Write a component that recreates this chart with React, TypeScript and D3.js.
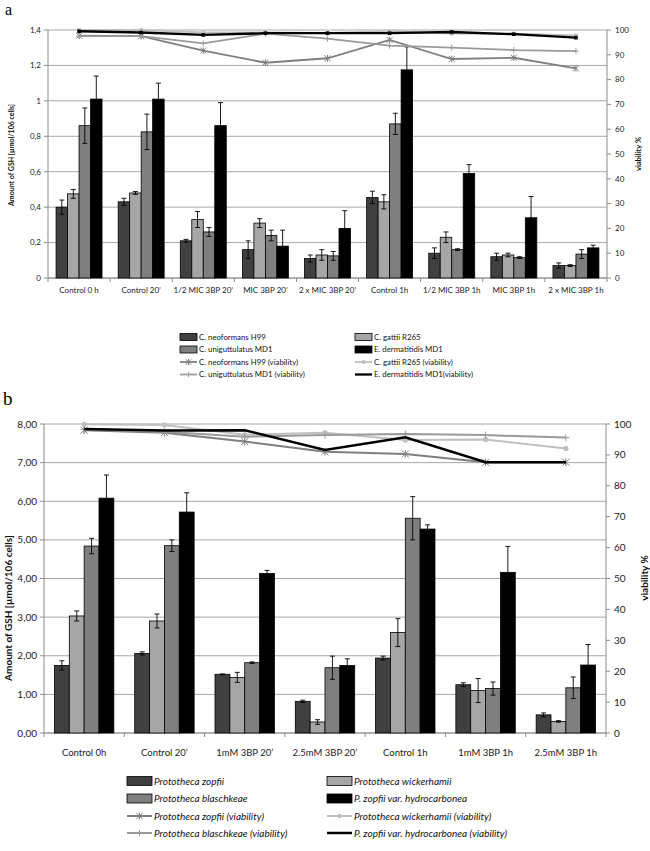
import React from 'react';
import * as d3 from 'd3';

// ---------- Panel a data ----------
const catsA = ["Control 0 h", "Control 20’", "1/2 MIC 3BP 20’", "MIC 3BP 20’", "2 x MIC 3BP 20’", "Control 1h", "1/2 MIC 3BP 1h", "MIC 3BP 1h", "2 x MIC 3BP 1h"];
const barNamesA = ["C. neoformans H99", "C. gattii  R265", "C. uniguttulatus  MD1", "E. dermatitidis  MD1"];
const gshNeoA = [0.40, 0.43, 0.21, 0.16, 0.11, 0.455, 0.14, 0.12, 0.07];
const errNeoA = [0.04, 0.02, 0.008, 0.05, 0.02, 0.035, 0.03, 0.02, 0.015];
const gshGatA = [0.475, 0.48, 0.33, 0.31, 0.13, 0.43, 0.23, 0.13, 0.07];
const errGatA = [0.025, 0.008, 0.045, 0.025, 0.03, 0.04, 0.03, 0.01, 0.005];
const gshUniA = [0.86, 0.825, 0.26, 0.24, 0.125, 0.87, 0.16, 0.115, 0.135];
const errUniA = [0.1, 0.1, 0.025, 0.03, 0.025, 0.06, 0.005, 0.005, 0.025];
const gshDerA = [1.01, 1.01, 0.86, 0.18, 0.28, 1.175, 0.59, 0.34, 0.17];
const errDerA = [0.13, 0.09, 0.13, 0.09, 0.1, 0.13, 0.05, 0.12, 0.015];
const lineNamesA = ["C. neoformans H99 (viability)", "C. gattii  R265 (viability)", "C. uniguttulatus  MD1 (viability)", "E. dermatitidis  MD1(viability)"];
const viaNeoA = [97.7, 97.5, 91.7, 86.8, 88.6, 96, 88.3, 88.8, 84.5];
const viaGatA = [100, 100, 99, 99, 98.8, 99.5, 98.5, 98.5, 97.8];
const viaUniA = [97.5, 97.5, 94.6, 98.5, 96.5, 93.7, 92.9, 91.9, 91.5];
const viaDerA = [99.5, 99, 98, 98.7, 98.7, 98.7, 99.2, 98.3, 96.9];
const leftTicksA = [0, 0.2, 0.4, 0.6, 0.8, 1, 1.2, 1.4];
const leftTickLabelsA = ["0", "0,2", "0,4", "0,6", "0,8", "1", "1,2", "1,4"];

// ---------- Panel b data ----------
const catsB = ["Control 0h", "Control 20’", "1mM 3BP 20’", "2.5mM 3BP 20’", "Control 1h", "1mM 3BP 1h", "2.5mM 3BP 1h"];
const barNamesB = ["Prototheca zopfii", "Prototheca wickerhamii", "Prototheca blaschkeae", "P. zopfii var. hydrocarbonea"];
const gshZopB = [1.75, 2.06, 1.52, 0.82, 1.94, 1.25, 0.47];
const errZopB = [0.12, 0.04, 0.01, 0.03, 0.05, 0.05, 0.05];
const gshWicB = [3.03, 2.90, 1.44, 0.285, 2.6, 1.10, 0.30];
const errWicB = [0.13, 0.18, 0.13, 0.06, 0.36, 0.31, 0.02];
const gshBlaB = [4.84, 4.85, 1.82, 1.69, 5.56, 1.15, 1.17];
const errBlaB = [0.2, 0.15, 0.02, 0.3, 0.56, 0.17, 0.28];
const gshHydB = [6.08, 5.72, 4.13, 1.75, 5.28, 4.16, 1.76];
const errHydB = [0.6, 0.5, 0.08, 0.17, 0.11, 0.67, 0.53];
const lineNamesB = ["Prototheca zopfii (viability)", "Prototheca wickerhamii  (viability)", "Prototheca blaschkeae  (viability)", "P. zopfii var. hydrocarbonea  (viability)"];
const viaZopB = [98, 97.2, 94.3, 91, 90.3, 87.6, 87.6];
const viaWicB = [99.9, 99.7, 96.5, 97.2, 94.8, 95, 92.1];
const viaBlaB = [98.3, 97.5, 95.9, 96.4, 96.8, 96.4, 95.6];
const viaHydB = [98.4, 97.9, 98, 91.6, 95.7, 87.6, 87.6];
const leftTicksB = [0, 1, 2, 3, 4, 5, 6, 7, 8];
const leftTickLabelsB = ["0,00", "1,00", "2,00", "3,00", "4,00", "5,00", "6,00", "7,00", "8,00"];

const rightTicks = [0, 10, 20, 30, 40, 50, 60, 70, 80, 90, 100];

const BAR_FILLS = ["#404040", "#a6a6a6", "#7f7f7f", "#000000"];
const LINE_COLORS = ["#7f7f7f", "#c0c0c0", "#9a9a9a", "#000000"];
const LINE_MARKERS = ["star", "circle", "plus", "square"];

const FONT = "Lato, 'Open Sans', sans-serif";

type PanelProps = {
  cats: string[];
  bars: { values: number[]; errors: number[] }[];
  lines: number[][];
  barNames: string[];
  lineNames: string[];
  leftTicks: number[];
  leftTickLabels: string[];
  yMax: number;
  g: {
    left: number; right: number; top: number; bottom: number;
    tickFont: number; catFont: number; titleFont: number; rightTitleFont: number;
    catY: number; leftTitleX: number; leftTitleY: number; rightTitleX: number;
    rightTitleY: number;
    legendY: number[]; legendX: number[]; swatchW: number; swatchH: number;
    legendFont: number; legendItalic: boolean; markerSize: number; blackMarker: boolean;
    lineW: number;
  };
};

function markerEl(type: string, x: number, y: number, s: number, color: string, key: string, blackMarker: boolean) {
  if (type === 'circle') return <circle key={key} cx={x} cy={y} r={s * 0.75} fill={color} />;
  if (type === 'star')
    return <path key={key} d={`M${x - s},${y - s}L${x + s},${y + s}M${x - s},${y + s}L${x + s},${y - s}M${x},${y - s * 1.1}L${x},${y + s * 1.1}`} stroke={color} strokeWidth={1} fill="none" />;
  if (type === 'plus')
    return <path key={key} d={`M${x - s},${y}L${x + s},${y}M${x},${y - s}L${x},${y + s}`} stroke={color} strokeWidth={1} fill="none" />;
  if (type === 'square' && blackMarker)
    return <rect key={key} x={x - 1.8} y={y - 1.8} width={3.6} height={3.6} fill={color} />;
  return null;
}

function Panel({ cats, bars, lines, barNames, lineNames, leftTicks, leftTickLabels, yMax, g }: PanelProps) {
  const x = d3.scaleBand<string>().domain(cats).range([g.left, g.right]).paddingInner(0).paddingOuter(0);
  const y = d3.scaleLinear().domain([0, yMax]).range([g.bottom, g.top]);
  const y2 = d3.scaleLinear().domain([0, 100]).range([g.bottom, g.top]);
  const step = x.step();
  const bw = step * 0.185;
  const barOffset = (i: number) => (i - bars.length / 2) * bw;
  const lineGen = d3.line<number>().x((_, i) => (x(cats[i]) as number) + step / 2).y((d) => y2(d));

  return (
    <g fontFamily={FONT}>
      {leftTicks.map((t) => (
        <line key={'gl' + t} x1={g.left} x2={g.right} y1={y(t)} y2={y(t)} stroke="#a8a8a8" strokeWidth={1} />
      ))}
      <line x1={g.left} x2={g.left} y1={g.top} y2={g.bottom} stroke="#8c8c8c" />
      <line x1={g.right} x2={g.right} y1={g.top} y2={g.bottom} stroke="#8c8c8c" />
      <line x1={g.left} x2={g.right} y1={g.bottom} y2={g.bottom} stroke="#8c8c8c" />
      {leftTicks.map((t, i) => (
        <g key={'lt' + t}>
          <line x1={g.left - 4} x2={g.left} y1={y(t)} y2={y(t)} stroke="#8c8c8c" />
          <text x={g.left - 7} y={y(t)} dy="0.35em" textAnchor="end" fontSize={g.tickFont} fill="#222">{leftTickLabels[i]}</text>
        </g>
      ))}
      {rightTicks.map((t) => (
        <g key={'rt' + t}>
          <line x1={g.right} x2={g.right + 4} y1={y2(t)} y2={y2(t)} stroke="#8c8c8c" />
          <text x={g.right + 8} y={y2(t)} dy="0.35em" textAnchor="start" fontSize={g.tickFont} fill="#222">{t}</text>
        </g>
      ))}
      {d3.range(cats.length + 1).map((i) => (
        <line key={'xt' + i} x1={g.left + i * step} x2={g.left + i * step} y1={g.bottom} y2={g.bottom + 4} stroke="#8c8c8c" />
      ))}
      {cats.map((c) => (
        <text key={'cl' + c} x={(x(c) as number) + step / 2} y={g.catY} dy="0.35em" textAnchor="middle" fontSize={g.catFont} fill="#222">{c}</text>
      ))}
      {bars.map((s, si) =>
        s.values.map((v, ci) => {
          const cx = (x(cats[ci]) as number) + step / 2 + barOffset(si);
          return (
            <rect key={`b${si}-${ci}`} x={cx} y={y(v)} width={bw} height={g.bottom - y(v)} fill={BAR_FILLS[si]} stroke="#000" strokeWidth={0.8} />
          );
        })
      )}
      {bars.map((s, si) =>
        s.values.map((v, ci) => {
          const cx = (x(cats[ci]) as number) + step / 2 + barOffset(si) + bw / 2;
          const e = s.errors[ci];
          const cw = Math.min(2.5, bw * 0.22);
          return (
            <path key={`e${si}-${ci}`} d={`M${cx},${y(v - e)}L${cx},${y(v + e)}M${cx - cw},${y(v + e)}L${cx + cw},${y(v + e)}M${cx - cw},${y(v - e)}L${cx + cw},${y(v - e)}`} stroke="#000" strokeWidth={0.9} fill="none" />
          );
        })
      )}
      {lines.map((vals, li) => (
        <g key={'ln' + li}>
          <path d={lineGen(vals) as string} fill="none" stroke={LINE_COLORS[li]} strokeWidth={li === 3 ? g.lineW + 0.5 : g.lineW} />
          {vals.map((v, ci) => markerEl(LINE_MARKERS[li], (x(cats[ci]) as number) + step / 2, y2(v), g.markerSize, LINE_COLORS[li], `m${li}-${ci}`, g.blackMarker))}
        </g>
      ))}
      <text transform={`translate(${g.leftTitleX},${g.leftTitleY}) rotate(-90)`} textAnchor="middle" fontSize={g.titleFont} fontWeight="bold" fill="#111">Amount of GSH  [µmol/106 cells]</text>
      <text transform={`translate(${g.rightTitleX},${g.rightTitleY}) rotate(-90)`} textAnchor="middle" fontSize={g.rightTitleFont} fontWeight="bold" fill="#111">viability %</text>
      {[0, 1, 2, 3].map((k) => {
        const row = Math.floor(k / 2);
        const col = k % 2;
        const lx = g.legendX[col];
        const ly = g.legendY[row];
        return (
          <g key={'lb' + k}>
            <rect x={lx} y={ly - g.swatchH / 2} width={g.swatchW} height={g.swatchH} fill={BAR_FILLS[k]} stroke="#000" strokeWidth={0.8} />
            <text x={lx + g.swatchW + 2} y={ly} dy="0.35em" fontSize={g.legendFont} fontStyle={g.legendItalic ? 'italic' : 'normal'} fill="#111">{barNames[k]}</text>
          </g>
        );
      })}
      {[0, 1, 2, 3].map((k) => {
        const row = 2 + Math.floor(k / 2);
        const col = k % 2;
        const lx = g.legendX[col];
        const ly = g.legendY[row];
        return (
          <g key={'ll' + k}>
            <line x1={lx} x2={lx + g.swatchW} y1={ly} y2={ly} stroke={LINE_COLORS[k]} strokeWidth={k === 3 ? g.lineW + 0.5 : g.lineW} />
            {markerEl(LINE_MARKERS[k], lx + g.swatchW / 2, ly, g.markerSize * 0.9, LINE_COLORS[k], 'lm' + k, false)}
            <text x={lx + g.swatchW + 2} y={ly} dy="0.35em" fontSize={g.legendFont} fontStyle={g.legendItalic ? 'italic' : 'normal'} fill="#111">{lineNames[k]}</text>
          </g>
        );
      })}
    </g>
  );
}

export default function App() {
  const barsA = [
    { values: gshNeoA, errors: errNeoA },
    { values: gshGatA, errors: errGatA },
    { values: gshUniA, errors: errUniA },
    { values: gshDerA, errors: errDerA },
  ];
  const barsB = [
    { values: gshZopB, errors: errZopB },
    { values: gshWicB, errors: errWicB },
    { values: gshBlaB, errors: errBlaB },
    { values: gshHydB, errors: errHydB },
  ];
  return (
    <svg width={650} height={851} style={{ position: 'absolute', left: 0, top: 0, background: '#fff' }}>
      <rect width={650} height={851} fill="#fff" />
      <text x={5} y={15} fontFamily="'Liberation Serif', 'DejaVu Serif', serif" fontSize={16}>a</text>
      <text x={3} y={405} fontFamily="'Liberation Serif', 'DejaVu Serif', serif" fontSize={19}>b</text>
      <Panel
        cats={catsA}
        bars={barsA}
        lines={[viaNeoA, viaGatA, viaUniA, viaDerA]}
        barNames={barNamesA}
        lineNames={lineNamesA}
        leftTicks={leftTicksA}
        leftTickLabels={leftTickLabelsA}
        yMax={1.4}
        g={{
          left: 48, right: 607, top: 30, bottom: 278,
          tickFont: 8, catFont: 8, titleFont: 7, rightTitleFont: 7.5,
          catY: 290, leftTitleX: 14, leftTitleY: 155, rightTitleX: 641, rightTitleY: 154,
          legendY: [337, 349.5, 362, 374.5], legendX: [180, 355], swatchW: 17, swatchH: 7,
          legendFont: 7.8, legendItalic: false, markerSize: 3, blackMarker: true, lineW: 1.8,
        }}
      />
      <Panel
        cats={catsB}
        bars={barsB}
        lines={[viaZopB, viaWicB, viaBlaB, viaHydB]}
        barNames={barNamesB}
        lineNames={lineNamesB}
        leftTicks={leftTicksB}
        leftTickLabels={leftTickLabelsB}
        yMax={8}
        g={{
          left: 44, right: 606, top: 424, bottom: 733,
          tickFont: 10, catFont: 9.5, titleFont: 10, rightTitleFont: 10,
          catY: 753, leftTitleX: 12, leftTitleY: 608, rightTitleX: 648, rightTitleY: 578,
          legendY: [781, 798.5, 816, 833], legendX: [127, 327], swatchW: 25, swatchH: 9,
          legendFont: 10, legendItalic: true, markerSize: 3.5, blackMarker: false, lineW: 2,
        }}
      />
    </svg>
  );
}
